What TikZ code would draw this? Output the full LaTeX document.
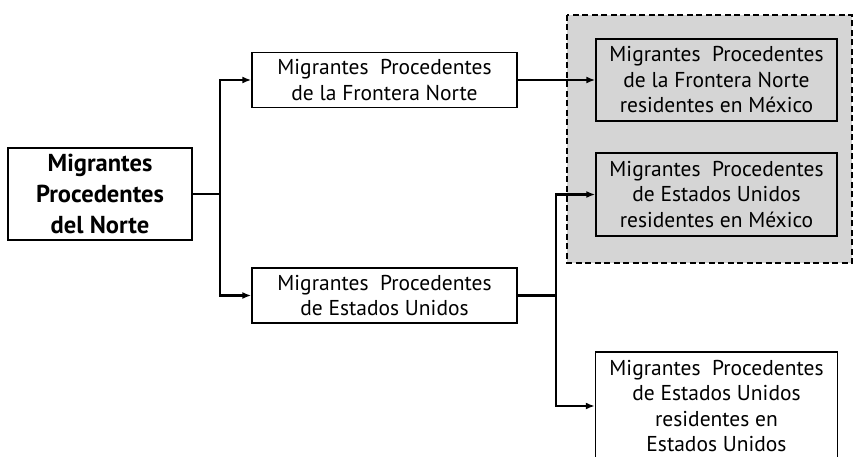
\documentclass[tikz,border=0pt]{standalone}
\usepackage{fontspec}
\setmainfont{PT Sans}
\usetikzlibrary{arrows.meta}

\begin{document}
\begin{tikzpicture}[x=1pt, y=-1pt,
    caja/.style={draw, line width=1.4pt, align=center, inner sep=1pt,
      font=\fontsize{21.5}{25.5}\selectfont},
    flecha/.style={-{Latex[length=9pt, width=7pt]}, line width=2.2pt},
    linea/.style={line width=2.2pt}]
          \useasboundingbox (0, 0) rectangle (856, 457);
          \clip (0, 0) rectangle (856, 457);

          % grupo residentes en Mexico
          \draw[line width=2.8pt, dash pattern=on 6pt off 3.5pt, fill=gray!33] (567, 15) rectangle (852, 263);

          \node[caja, minimum width=184, minimum height=92, font=\fontsize{24.5}{31}\selectfont\bfseries] (norte) at (100, 194) {Migrantes\\Procedentes\\del Norte};

          \node[caja, fill=white, minimum width=265, minimum height=55] (fron) at (384.5, 80) {Migrantes~ Procedentes\\de la Frontera Norte};
          \node[caja, fill=white, minimum width=265, minimum height=55] (eu) at (384.5, 295.5) {Migrantes~ Procedentes\\de Estados Unidos};

          \node[caja, fill=gray!33, minimum width=241, minimum height=82] (fronmx) at (716.5, 80) {Migrantes~ Procedentes\\de la Frontera Norte\\residentes en México};
          \node[caja, fill=gray!33, minimum width=241, minimum height=83] (eumx) at (716.5, 194.5) {Migrantes~ Procedentes\\de Estados Unidos\\residentes en México};
          \node[caja, fill=white, minimum width=242, minimum height=108] (euus) at (716.5, 406) {Migrantes~ Procedentes\\de Estados Unidos\\residentes en\\Estados Unidos};

          \coordinate (div1) at (220, 194);
          \coordinate (div2) at (556, 295.5);

          \draw[linea] (norte.east) -- (div1);
          \draw[flecha] (div1) |- (fron.west);
          \draw[flecha] (div1) |- (eu.west);

          \draw[flecha] (fron.east) -- (fronmx.west);

          \draw[linea] (eu.east) -- (div2);
          \draw[flecha] (div2) |- (eumx.west);
          \draw[flecha] (div2) |- (euus.west);
        \end{tikzpicture}
\end{document}
